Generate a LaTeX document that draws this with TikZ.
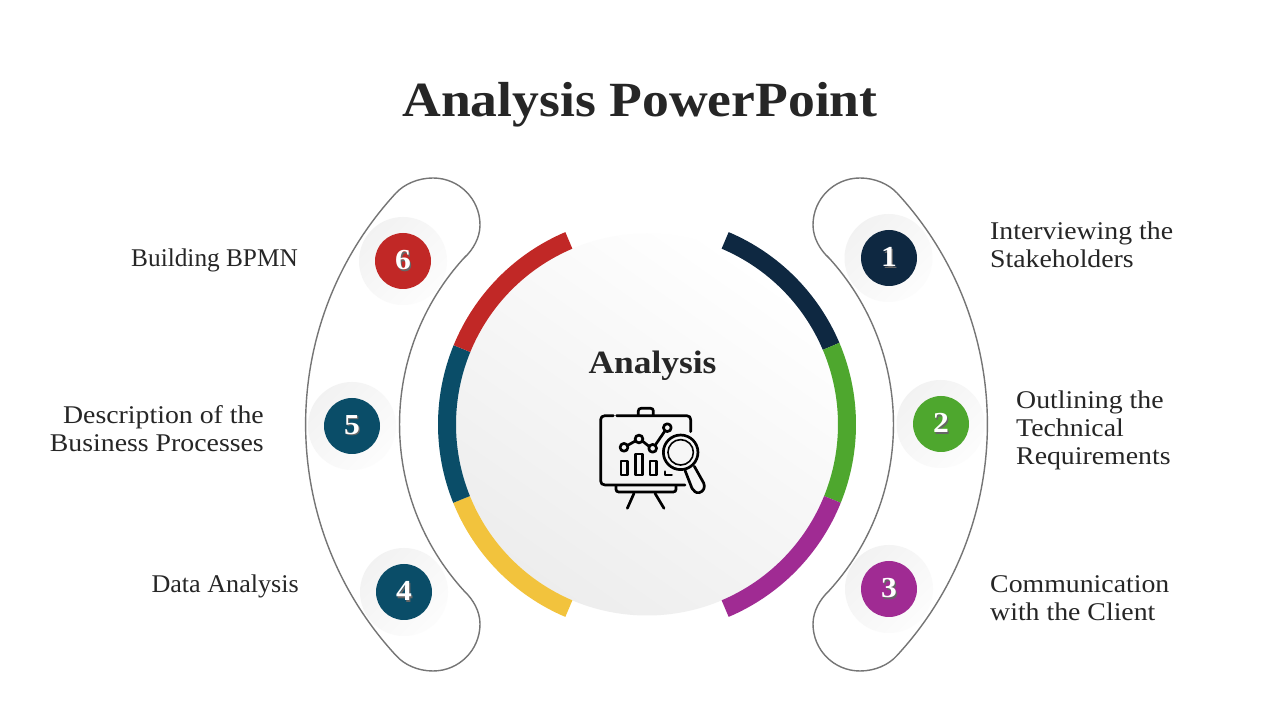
\documentclass[tikz,border=0pt]{standalone}
\usepackage{fontspec}
\setmainfont[FakeStretch=1.09]{Liberation Serif}
\definecolor{ink}{HTML}{262626}
\definecolor{navy}{HTML}{0E2841}
\definecolor{leaf}{HTML}{4EA72E}
\definecolor{plum}{HTML}{A02B93}
\definecolor{gold}{HTML}{F2C33D}
\definecolor{teal}{HTML}{0A4D68}
\definecolor{brick}{HTML}{C12826}
\definecolor{cuffgray}{HTML}{757575}
\tikzset{
  body/.style={text=ink,inner sep=0pt,font=\fontsize{25.5}{28.2}\selectfont},
  bodyl/.style={body,align=left,anchor=west},
  bodyr/.style={body,align=right,anchor=east},
  halo/.style={circle,inner sep=0pt,minimum size=88pt,left color=black!5,right color=black!1,shading angle=45},
  badge/.style={circle,inner sep=0pt,minimum size=56pt,text=white,font=\fontsize{29}{29}\selectfont\bfseries},
  cuffline/.style={draw=cuffgray,line width=1.4pt},
  iconline/.style={draw=black,line width=2.7pt,line cap=round,line join=round},
}
\newcommand\shadednum[2]{\raisebox{-0.8pt}{\rlap{\raisebox{-1.2pt}{\hspace{1.2pt}\textcolor{#2}{#1}}}#1}}
\newcommand\seg[3]{\fill[#3] ([shift={(#1:191pt)}]C) arc[start angle=#1,end angle=#2,radius=191pt] -- ([shift={(#2:209pt)}]C) arc[start angle=#2,end angle=#1,radius=209pt] -- cycle;}
\newcommand\cuff[1]{\begin{scope}[shift={(646.5,295.5)},xscale=#1]
\path[cuffline] (181.5,167.4) .. controls (173.7,174.8) and (166.5,186.5) .. (166.5,199.5)
 .. controls (166.5,225.5) and (187.5,246.5) .. (213.5,246.5)
 .. controls (228.5,246.5) and (242.3,240.3) .. (250.5,231.5)
 arc[start angle=42.7,end angle=-42.7,radius=341pt]
 .. controls (242.3,-240.3) and (228.5,-246.5) .. (213.5,-246.5)
 .. controls (187.5,-246.5) and (166.5,-225.5) .. (166.5,-199.5)
 .. controls (166.5,-186.5) and (173.7,-174.8) .. (181.5,-167.4)
 arc[start angle=-42.7,end angle=42.7,radius=247pt] -- cycle;
\end{scope}}
\begin{document}
\begin{tikzpicture}[x=1pt,y=1pt]
\useasboundingbox (0,0) rectangle (1280,720);
\fill[white] (0,0) rectangle (1280,720);
\node[text=ink,inner sep=0pt,font=\fontsize{49.2}{50}\selectfont\bfseries] (title) at (640,615.5) {Analysis PowerPoint};
\coordinate (C) at (647,295.5);
% centre disc
\shade[bottom color=black!7,top color=white,shading angle=-35] (C) circle[radius=191pt];
% ring
\seg{67}{23}{navy}
\seg{23}{-22}{leaf}
\seg{-22}{-67}{plum}
\seg{247}{202}{gold}
\seg{202}{157.7}{teal}
\seg{157.7}{113}{brick}
% cuffs
\cuff{1}
\cuff{-1}
% badges
\node[halo] (h1) at (888.5,462) {};
\node[halo] (h2) at (940.5,296) {};
\node[halo] (h3) at (889,131) {};
\node[halo] (h4) at (404,128) {};
\node[halo] (h5) at (352,294) {};
\node[halo] (h6) at (403,459) {};
\node[badge,fill=navy] (b1) at (889,462) {\shadednum{1}{black!60}};
\node[badge,fill=leaf] (b2) at (941,296) {\shadednum{2}{black!60}};
\node[badge,fill=plum] (b3) at (889,131) {\shadednum{3}{black!60}};
\node[badge,fill=teal] (b4) at (404,128) {\shadednum{4}{black!60}};
\node[badge,fill=teal] (b5) at (352,294) {\shadednum{5}{black!60}};
\node[badge,fill=brick] (b6) at (403,459) {\shadednum{6}{black!60}};
% labels
\node[bodyl] (t1) at (990,475.5) {Interviewing the\\Stakeholders};
\node[bodyl] (t2) at (1016,289.5) {Outlining the\\Technical\\Requirements};
\node[bodyl] (t3) at (990,121.5) {Communication\\with the Client};
\node[bodyr] (t4) at (299,133.5) {\scalebox{0.94}[1]{Data Analysis}};
\node[bodyr] (t5) at (264,291) {Description of the\\Business Processes};
\node[bodyr] (t6) at (298,459.5) {\scalebox{0.91}[1]{Building BPMN}};
% centre heading
\node[text=ink,inner sep=0pt,font=\fontsize{32.5}{33}\selectfont\bfseries] (head) at (652.5,354) {Analysis};
% icon (drawn in the reference's 3x pixels)
\begin{scope}[shift={(590,325)},x=0.3333pt,y=-0.3333pt]
\path[iconline] (70,62) -- (45,62) .. controls (37,62) and (32,67) .. (32,74) -- (32,258) .. controls (32,265) and (37,270) .. (45,270) -- (285,270);
\path[iconline] (80,62) -- (290,62) .. controls (298,62) and (302,67) .. (302,74) -- (302,110);
\path[iconline] (145,60) -- (145,48) .. controls (145,43) and (148,40) .. (153,40) -- (182,40) .. controls (187,40) and (190,43) .. (190,48) -- (190,60);
\path[iconline] (78,272) -- (78,283) .. controls (78,288) and (81,291) .. (86,291) -- (250,291) .. controls (255,291) and (258,288) .. (258,283) -- (258,272);
\path[iconline] (132,295) -- (112,340);
\path[iconline] (195,295) -- (222,340);
\path[iconline] (102,157) circle[radius=3.9pt];
\path[iconline] (147,132) circle[radius=3.9pt];
\path[iconline] (188,160) circle[radius=3.9pt];
\path[iconline] (232,98) circle[radius=3.9pt];
\path[iconline] (113,151) -- (136,138);
\path[iconline] (157,138) -- (177,154);
\path[iconline] (196,150) -- (224,109);
\path[iconline] (93,198) rectangle (112,240);
\path[iconline] (137,177) rectangle (157,240);
\path[iconline] (180,198) rectangle (200,240);
\path[iconline] (225,230) -- (225,240) -- (245,240);
\path[iconline] (272,172) circle[radius=17.3pt];
\path[draw=black,line width=1.6pt] (272,172) circle[radius=12.7pt];
\path[iconline] (313,214) -- (341,264) .. controls (347,277) and (340,290) .. (328,293) .. controls (318,295) and (311,288) .. (306,280) -- (285,226);
\end{scope}
\end{tikzpicture}
\end{document}
